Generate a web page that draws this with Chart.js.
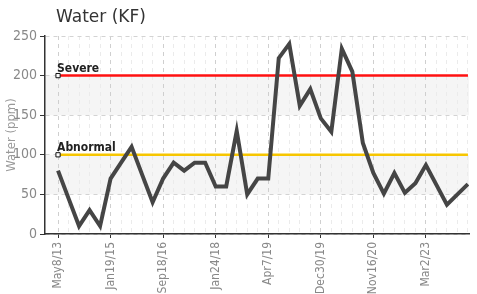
<!DOCTYPE html>
<html>
<head>
<meta charset="utf-8">
<style>
  html, body { margin: 0; padding: 0; background: #fff; }
</style>
</head>
<body>
<canvas id="myChart" width="477" height="294"></canvas>
<script src="https://cdn.jsdelivr.net/npm/chart.js@4.4.0/dist/chart.umd.min.js"></script>
<script>
// sample dates (only every 5th one is printed on the axis)
const dates = [
  'May8/13', '', '', '', '', 'Jan19/15', '', '', '', '',
  'Sep18/16', '', '', '', '', 'Jan24/18', '', '', '', '',
  'Apr7/19', '', '', '', '', 'Dec30/19', '', '', '', '',
  'Nov16/20', '', '', '', '', 'Mar2/23', '', '', '', ''
];
// water content, ppm
const water = [
  80, 45, 10, 30, 10, 70, 90, 110, 75, 40,
  70, 90, 80, 90, 90, 60, 60, 130, 50, 70,
  70, 222, 240, 162, 183, 146, 129, 234, 205, 115,
  77, 51, 77, 52, 64, 87, 62, 37, 50, 63
];
const yTicks = [0, 50, 100, 150, 200, 250];
const severeLevel = 200;
const abnormalLevel = 100;

const narrow = "'Liberation Sans Narrow', 'DejaVu Sans Condensed', 'Roboto', sans-serif";

const pts = water.map((v, i) => ({ x: i, y: v }));
const levelLine = (lvl) => dates.map((_, i) => ({ x: i, y: lvl }));

const bandsPlugin = {
  id: 'bands',
  beforeDraw(chart) {
    const { ctx, chartArea, scales } = chart;
    const y = scales.y;
    ctx.save();
    ctx.fillStyle = '#f5f5f5';
    for (let i = 1; i < yTicks.length - 1; i += 2) {
      const top = y.getPixelForValue(yTicks[i + 1]);
      const bot = y.getPixelForValue(yTicks[i]);
      ctx.fillRect(chartArea.left, top, chartArea.right - chartArea.left, bot - top);
    }
    ctx.restore();
  }
};

const textPlugin = {
  id: 'texts',
  afterDraw(chart) {
    const { ctx, scales } = chart;
    ctx.save();
    ctx.fillStyle = '#333';
    ctx.font = "17px 'DejaVu Sans', sans-serif";
    ctx.textBaseline = 'alphabetic';
    ctx.fillText('Water (KF)', 56, 22);

    ctx.fillStyle = '#222';
    ctx.font = "bold 12px " + narrow;
    const x0 = scales.x.getPixelForValue(0) - 1;
    ctx.fillText('Severe', x0, scales.y.getPixelForValue(severeLevel) - 4);
    ctx.fillText('Abnormal', x0, scales.y.getPixelForValue(abnormalLevel) - 4);
    ctx.restore();
  }
};

const firstOnly = (c) => (c.dataIndex === 0 ? 3 : 0);

new Chart(document.getElementById('myChart'), {
  type: 'line',
  data: {
    datasets: [
      {
        label: 'Water',
        data: pts,
        borderColor: '#454545',
        borderWidth: 4,
        pointRadius: 0,
        tension: 0
      },
      {
        label: 'Severe',
        data: levelLine(severeLevel),
        borderColor: '#ff1010',
        borderWidth: 2.5,
        pointRadius: firstOnly,
        pointStyle: 'rect',
        pointBackgroundColor: '#fff',
        pointBorderColor: '#111',
        pointBorderWidth: 1
      },
      {
        label: 'Abnormal',
        data: levelLine(abnormalLevel),
        borderColor: '#f7c600',
        borderWidth: 2.5,
        pointRadius: firstOnly,
        pointStyle: 'rect',
        pointBackgroundColor: '#fff',
        pointBorderColor: '#111',
        pointBorderWidth: 1
      }
    ]
  },
  options: {
    responsive: false,
    animation: false,
    layout: { padding: { top: 36, right: 8, left: 0, bottom: 0 } },
    plugins: {
      legend: { display: false },
      tooltip: { enabled: false },
      title: { display: false }
    },
    scales: {
      x: {
        type: 'linear',
        min: -1.24,
        max: 39.1,
        afterBuildTicks(scale) {
          scale.ticks = dates.map((_, i) => ({ value: i }));
        },
        afterFit(scale) {
          scale.height = 60;
          scale.paddingLeft = 0;
          scale.paddingRight = 0;
        },
        ticks: {
          autoSkip: false,
          minRotation: 90,
          maxRotation: 90,
          color: '#888',
          font: { family: narrow, size: 12 },
          padding: 4,
          callback: (v) => dates[v] || ''
        },
        grid: {
          color: (c) => (c.tick && c.tick.value % 5 === 0 ? '#cfcfcf' : '#ebebeb'),
          tickColor: (c) => (c.tick && c.tick.value % 5 === 0 ? '#333' : 'rgba(0,0,0,0)'),
          tickLength: 4,
          lineWidth: 1
        },
        border: { color: '#333', width: 1.5, dash: [4, 4] }
      },
      y: {
        min: 0,
        max: 250,
        afterBuildTicks(scale) {
          scale.ticks = yTicks.map((v) => ({ value: v }));
        },
        afterFit(scale) { scale.width = 45; },
        ticks: {
          color: '#888',
          font: { family: narrow, size: 14 },
          padding: 3
        },
        grid: {
          color: '#d3d3d3',
          tickColor: '#333',
          tickLength: 5,
          lineWidth: 1
        },
        border: { color: '#333', width: 1.5, dash: [4, 4] },
        title: {
          display: true,
          text: 'Water (ppm)',
          color: '#999',
          font: { family: narrow, size: 13 },
          padding: { top: 4, bottom: 0 }
        }
      }
    }
  },
  plugins: [bandsPlugin, textPlugin]
});
</script>
</body>
</html>
